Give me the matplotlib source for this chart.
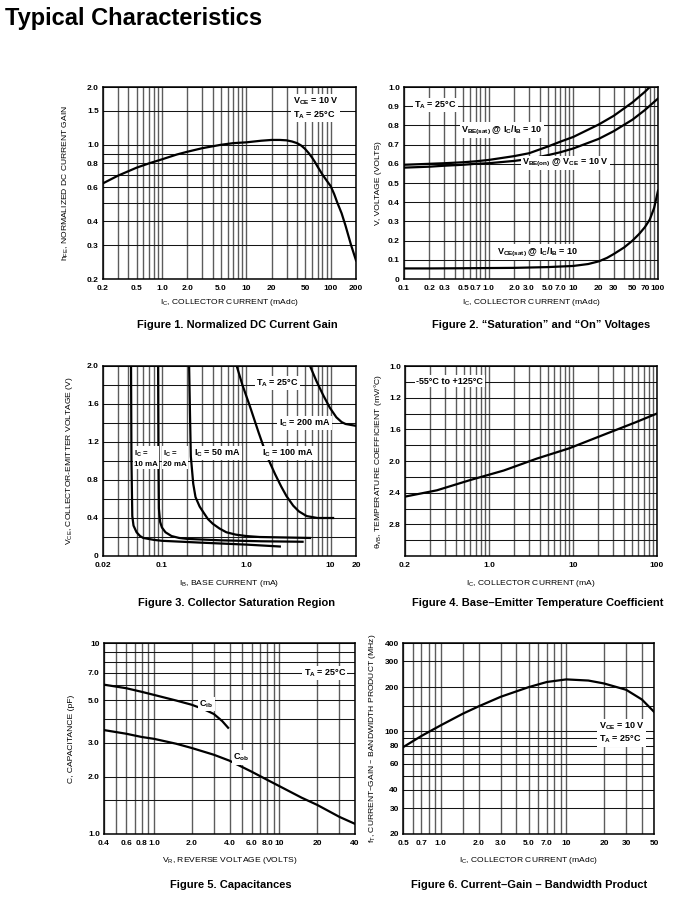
import matplotlib
matplotlib.use("Agg")
import matplotlib.pyplot as plt
from matplotlib.ticker import NullFormatter

plt.rcParams['font.family'] = ['Liberation Sans Narrow', 'Liberation Sans', 'DejaVu Sans']
plt.rcParams['mathtext.default'] = 'regular'

W, H = 684, 908

# ========== data ==========
# Figure 1 - normalized DC current gain
f1_ic = [0.2, 0.3, 0.5, 0.7, 1.0, 1.5, 2.0, 3.0, 5.0, 7.0, 10, 15, 20, 25, 30, 35, 40, 45, 50, 55,
         60, 65, 70, 80, 90, 100, 110, 120, 135, 150, 175, 200]
f1_hfe = [0.63, 0.69, 0.76, 0.80, 0.84, 0.89, 0.92, 0.96, 1.0, 1.02, 1.03, 1.05, 1.06, 1.06, 1.055, 1.04,
          1.02, 0.99, 0.95, 0.905, 0.86, 0.815, 0.77, 0.70, 0.65, 0.61, 0.555, 0.50, 0.44, 0.38, 0.30, 0.25]

# Figure 2 - saturation and on voltages
f2_ic_sat = [0.1, 0.2, 0.3, 0.5, 0.7, 1.0, 2.0, 3.0, 5.0, 7.0, 10, 20, 30, 50, 70, 80]
f2_vbe_sat = [0.595, 0.60, 0.603, 0.608, 0.613, 0.62, 0.64, 0.655, 0.69, 0.715, 0.74, 0.805, 0.85, 0.92, 0.975, 1.0]
f2_ic_on = [0.1, 0.2, 0.3, 0.5, 0.7, 1.0, 2.0, 3.0, 5.0, 7.0, 10, 20, 30, 50, 70, 100]
f2_vbe_on = [0.58, 0.585, 0.59, 0.595, 0.60, 0.603, 0.615, 0.625, 0.645, 0.66, 0.68, 0.73, 0.77, 0.83, 0.88, 0.94]
f2_ic_ce = [0.1, 0.2, 0.5, 1.0, 2.0, 5.0, 10, 15, 20, 25, 30, 40, 50, 60, 70, 80, 90, 100]
f2_vce_sat = [0.055, 0.055, 0.056, 0.057, 0.058, 0.062, 0.068, 0.078, 0.092, 0.11, 0.13, 0.165, 0.20,
              0.235, 0.27, 0.31, 0.37, 0.46]

# Figure 3 - collector saturation region (IB in mA, VCE in V)
f3_ib_10 = [0.043, 0.0435, 0.0445, 0.046, 0.05, 0.055, 0.06, 0.08, 0.1, 0.3, 1.0, 2.5]
f3_vce_10 = [2.0, 1.0, 0.42, 0.32, 0.25, 0.21, 0.19, 0.17, 0.16, 0.14, 0.12, 0.10]
f3_ib_20 = [0.090, 0.091, 0.092, 0.095, 0.1, 0.11, 0.13, 0.16, 0.2, 0.5, 1.5, 4.65]
f3_vce_20 = [2.0, 1.0, 0.50, 0.36, 0.30, 0.25, 0.21, 0.19, 0.18, 0.165, 0.155, 0.15]
f3_ib_50 = [0.21, 0.215, 0.22, 0.235, 0.25, 0.28, 0.31, 0.35, 0.4, 0.48, 0.58, 0.75, 1.0, 1.44, 5.7]
f3_vce_50 = [2.0, 1.5, 1.05, 0.76, 0.62, 0.52, 0.46, 0.39, 0.34, 0.29, 0.25, 0.225, 0.21, 0.20, 0.19]
f3_ib_100 = [0.77, 0.9, 1.1, 1.4, 1.74, 2.2, 2.6, 3.0, 3.6, 4.2, 5.2, 7.0, 10.7]
f3_vce_100 = [2.0, 1.8, 1.58, 1.30, 1.06, 0.86, 0.73, 0.63, 0.53, 0.47, 0.42, 0.40, 0.40]
f3_ib_200 = [5.7, 6.8, 8.2, 9.8, 11.7, 13.5, 15, 20]
f3_vce_200 = [2.0, 1.84, 1.69, 1.56, 1.46, 1.41, 1.39, 1.37]

# Figure 4 - base-emitter temperature coefficient
f4_ic = [0.1, 0.24, 0.6, 1.5, 3.7, 9.0, 23, 56, 100]
f4_tc = [2.45, 2.37, 2.24, 2.12, 1.97, 1.84, 1.67, 1.51, 1.40]

# Figure 5 - capacitances
f5_vr_ib = [0.4, 0.6, 0.8, 1.0, 1.5, 2.0, 2.5, 3.0, 3.5, 3.9]
f5_cib = [6.05, 5.8, 5.55, 5.35, 5.0, 4.75, 4.5, 4.25, 3.9, 3.6]
f5_vr_ob = [0.4, 0.6, 0.8, 1.0, 1.5, 2.0, 3.0, 4.0, 6.0, 8.0, 10, 15, 20, 30, 40]
f5_cob = [3.5, 3.35, 3.22, 3.15, 2.97, 2.82, 2.6, 2.42, 2.12, 1.92, 1.78, 1.55, 1.42, 1.23, 1.13]

# Figure 6 - current-gain bandwidth product
f6_ic = [0.5, 0.7, 1.0, 1.5, 2.0, 3.0, 5.0, 7.0, 10, 15, 20, 30, 40, 50]
f6_ft = [78, 93, 110, 132, 148, 172, 200, 217, 226, 222, 212, 192, 165, 136]


def log_lines(lo, hi, extra=()):
    out = []
    dec = 1e-3
    while dec < hi * 10:
        for m in range(1, 10):
            v = round(m * dec, 6)
            if lo - 1e-9 <= v <= hi + 1e-9:
                out.append(v)
        dec *= 10
    return sorted(set(out + list(extra)))


def px_axes(l, t, r, b):
    return fig.add_axes([l / W, 1 - b / H, (r - l) / W, (b - t) / H])


def style(ax, xt, xl, yt, yl, xgrid, ygrid):
    ax.set_xticks(xt, xl)
    ax.set_xticks(xgrid, minor=True)
    ax.set_yticks(yt, yl)
    ax.set_yticks(ygrid, minor=True)
    ax.xaxis.set_minor_formatter(NullFormatter())
    ax.yaxis.set_minor_formatter(NullFormatter())
    ax.tick_params(which='both', length=0, labelsize=6)
    ax.tick_params(axis='x', pad=4.5)
    ax.tick_params(axis='y', pad=3)
    ax.xaxis.grid(True, which='both', color='#5c5c5c', lw=1.0)
    ax.yaxis.grid(True, which='both', color='#151515', lw=0.75)
    for lab in ax.get_xticklabels() + ax.get_yticklabels():
        lab.set_fontweight('bold')
    for s in ax.spines.values():
        s.set_linewidth(1.1)


def labels(ax, xlabel, ylabel, xy, yx):
    ax.set_xlabel(xlabel, fontsize=6.1)
    ax.set_ylabel(ylabel, fontsize=6.1)
    ax.xaxis.set_label_coords(0.5, xy)
    ax.yaxis.set_label_coords(yx, 0.5)


box = dict(boxstyle='square,pad=0.15', fc='white', ec='none')
tk = dict(fontsize=6.5, fontweight='bold')
tk_small = dict(fontsize=5.7, fontweight='bold')
lw = 1.6

fig = plt.figure(figsize=(W / 100, H / 100), dpi=100)
fig.text(5 / W, 1 - 19 / H, 'Typical Characteristics', fontsize=17, fontweight='bold',
         family='Liberation Sans', va='center', ha='left')

# ========== Figure 1 ==========
ax1 = px_axes(103, 87, 356, 279)
ax1.set_xscale('log'); ax1.set_yscale('log')
ax1.set_xlim(0.2, 200); ax1.set_ylim(0.2, 2.0)
ax1.plot(f1_ic, f1_hfe, color='black', lw=lw)
style(ax1, [0.2, 0.5, 1, 2, 5, 10, 20, 50, 100, 200],
      ['0.2', '0.5', '1.0', '2.0', '5.0', '10', '20', '50', '100', '200'],
      [0.2, 0.3, 0.4, 0.6, 0.8, 1.0, 1.5, 2.0],
      ['0.2', '0.3', '0.4', '0.6', '0.8', '1.0', '1.5', '2.0'],
      log_lines(0.2, 200), [0.2, 0.3, 0.4, 0.5, 0.6, 0.7, 0.8, 0.9, 1.0, 1.5, 2.0])
ax1.text(0.75, 0.955, 'V$_{CE}$ = 10 V\nT$_A$ = 25°C', transform=ax1.transAxes,
         va='top', ha='left', bbox=box, linespacing=1.3, **tk)
labels(ax1, 'I$_C$, COLLECTOR CURRENT (mAdc)', 'h$_{FE}$, NORMALIZED DC CURRENT GAIN', -0.095, -0.125)

# ========== Figure 2 ==========
ax2 = px_axes(404, 87, 658, 279)
ax2.set_xscale('log')
ax2.set_xlim(0.1, 100); ax2.set_ylim(0, 1.0)
ax2.plot(f2_ic_sat, f2_vbe_sat, color='black', lw=lw)
ax2.plot(f2_ic_on, f2_vbe_on, color='black', lw=lw)
ax2.plot(f2_ic_ce, f2_vce_sat, color='black', lw=lw)
x2 = [0.1, 0.2, 0.3, 0.5, 0.7, 1, 2, 3, 5, 7, 10, 20, 30, 50, 70, 100]
y2 = [i / 10 for i in range(11)]
style(ax2, x2, ['0.1', '0.2', '0.3', '0.5', '0.7', '1.0', '2.0', '3.0', '5.0', '7.0', '10', '20', '30', '50', '70', '100'],
      y2, ['0'] + ['%.1f' % v for v in y2[1:]], log_lines(0.1, 100), y2)
ax2.text(0.04, 0.905, 'T$_A$ = 25°C', transform=ax2.transAxes, va='center', ha='left', bbox=box, **tk)
ax2.text(0.225, 0.776, 'V$_{BE(sat)}$ @ I$_C$/I$_B$ = 10', transform=ax2.transAxes,
         va='center', ha='left', bbox=box, **tk)
ax2.text(0.465, 0.604, 'V$_{BE(on)}$ @ V$_{CE}$ = 10 V', transform=ax2.transAxes,
         va='center', ha='left', bbox=box, **tk)
ax2.text(0.365, 0.14, 'V$_{CE(sat)}$ @ I$_C$/I$_B$ = 10', transform=ax2.transAxes,
         va='center', ha='left', bbox=box, **tk)
labels(ax2, 'I$_C$, COLLECTOR CURRENT (mAdc)', 'V, VOLTAGE (VOLTS)', -0.095, -0.085)

# ========== Figure 3 ==========
ax3 = px_axes(103, 366, 356, 556)
ax3.set_xscale('log')
ax3.set_xlim(0.02, 20); ax3.set_ylim(0, 2.0)
for ib, vce in [(f3_ib_10, f3_vce_10), (f3_ib_20, f3_vce_20), (f3_ib_50, f3_vce_50),
                (f3_ib_100, f3_vce_100), (f3_ib_200, f3_vce_200)]:
    ax3.plot(ib, vce, color='black', lw=lw)
y3 = [i / 5 for i in range(11)]
style(ax3, [0.02, 0.1, 1, 10, 20], ['0.02', '0.1', '1.0', '10', '20'],
      [0, 0.4, 0.8, 1.2, 1.6, 2.0], ['0', '0.4', '0.8', '1.2', '1.6', '2.0'],
      log_lines(0.02, 20), y3)
ax3.text(0.605, 0.91, 'T$_A$ = 25°C', transform=ax3.transAxes, va='center', ha='left', bbox=box, **tk)
ax3.text(0.695, 0.70, 'I$_C$ = 200 mA', transform=ax3.transAxes, va='center', ha='left', bbox=box, **tk)
ax3.text(0.63, 0.542, 'I$_C$ = 100 mA', transform=ax3.transAxes, va='center', ha='left', bbox=box, **tk)
ax3.text(0.36, 0.542, 'I$_C$ = 50 mA', transform=ax3.transAxes, va='center', ha='left', bbox=box, **tk)
ax3.text(0.236, 0.565, 'I$_C$ =\n20 mA', transform=ax3.transAxes, va='top', ha='left', bbox=box,
         linespacing=1.45, **tk_small)
ax3.text(0.124, 0.565, 'I$_C$ =\n10 mA', transform=ax3.transAxes, va='top', ha='left', bbox=box,
         linespacing=1.45, **tk_small)
labels(ax3, 'I$_B$, BASE CURRENT (mA)', 'V$_{CE}$, COLLECTOR-EMITTER VOLTAGE (V)', -0.115, -0.11)

# ========== Figure 4 ==========
ax4 = px_axes(405, 366, 657, 556)
ax4.set_xscale('log')
ax4.set_xlim(0.1, 100); ax4.set_ylim(3.2, 0.8)
ax4.plot(f4_ic, f4_tc, color='black', lw=lw)
y4 = [0.8 + i * 0.2 for i in range(13)]
style(ax4, [0.1, 1, 10, 100], ['0.2', '1.0', '10', '100'],
      [0.8, 1.2, 1.6, 2.0, 2.4, 2.8], ['1.0', '1.2', '1.6', '2.0', '2.4', '2.8'],
      log_lines(0.1, 100), y4)
ax4.text(0.045, 0.92, '-55°C to +125°C', transform=ax4.transAxes, va='center', ha='left', bbox=box, **tk)
labels(ax4, 'I$_C$, COLLECTOR CURRENT (mA)', 'θ$_{VB}$, TEMPERATURE COEFFICIENT (mV/°C)', -0.115, -0.085)

# ========== Figure 5 ==========
ax5 = px_axes(104, 643, 355, 834)
ax5.set_xscale('log'); ax5.set_yscale('log')
ax5.set_xlim(0.4, 40); ax5.set_ylim(1.0, 10)
ax5.plot(f5_vr_ib, f5_cib, color='black', lw=lw)
ax5.plot(f5_vr_ob, f5_cob, color='black', lw=lw)
style(ax5, [0.4, 0.6, 0.8, 1, 2, 4, 6, 8, 10, 20, 40],
      ['0.4', '0.6', '0.8', '1.0', '2.0', '4.0', '6.0', '8.0', '10', '20', '40'],
      [1, 2, 3, 5, 7, 10], ['1.0', '2.0', '3.0', '5.0', '7.0', '10'],
      log_lines(0.4, 40), [1, 1.5, 2, 3, 4, 5, 6, 7, 8, 9, 10])
ax5.text(0.795, 0.843, 'T$_A$ = 25°C', transform=ax5.transAxes, va='center', ha='left', bbox=box, **tk)
ax5.text(0.38, 0.68, 'C$_{ib}$', transform=ax5.transAxes, va='center', ha='left', bbox=box, **tk)
ax5.text(0.515, 0.40, 'C$_{ob}$', transform=ax5.transAxes, va='center', ha='left', bbox=box, **tk)
labels(ax5, 'V$_R$, REVERSE VOLTAGE (VOLTS)', 'C, CAPACITANCE (pF)', -0.11, -0.115)

# ========== Figure 6 ==========
ax6 = px_axes(403, 643, 654, 834)
ax6.set_xscale('log'); ax6.set_yscale('log')
ax6.set_xlim(0.5, 50); ax6.set_ylim(20, 400)
ax6.plot(f6_ic, f6_ft, color='black', lw=lw)
style(ax6, [0.5, 0.7, 1, 2, 3, 5, 7, 10, 20, 30, 50],
      ['0.5', '0.7', '1.0', '2.0', '3.0', '5.0', '7.0', '10', '20', '30', '50'],
      [20, 30, 40, 60, 80, 100, 200, 300, 400],
      ['20', '30', '40', '60', '80', '100', '200', '300', '400'],
      log_lines(0.5, 50, extra=[1.5]), [20, 30, 40, 50, 60, 70, 80, 90, 100, 150, 200, 300, 400])
ax6.text(0.78, 0.53, 'V$_{CE}$ = 10 V\nT$_A$ = 25°C', transform=ax6.transAxes,
         va='center', ha='left', bbox=box, linespacing=1.3, **tk)
labels(ax6, 'I$_C$, COLLECTOR CURRENT (mAdc)', 'f$_T$, CURRENT–GAIN – BANDWIDTH PRODUCT (MHz)', -0.11, -0.1)

# ========== captions ==========
caps = [
    (237, 325, 'Figure 1. Normalized DC Current Gain'),
    (541, 325, 'Figure 2. “Saturation” and “On” Voltages'),
    (237, 603, 'Figure 3. Collector Saturation Region'),
    (538, 603, 'Figure 4. Base–Emitter Temperature Coefficient'),
    (231, 885, 'Figure 5. Capacitances'),
    (529, 885, 'Figure 6. Current–Gain – Bandwidth Product'),
]
for x, y, t in caps:
    fig.text(x / W, 1 - y / H, t, ha='center', va='center', fontsize=8,
             fontweight='bold', family='Liberation Sans')

fig.savefig('out.png', dpi=100, facecolor='white')
